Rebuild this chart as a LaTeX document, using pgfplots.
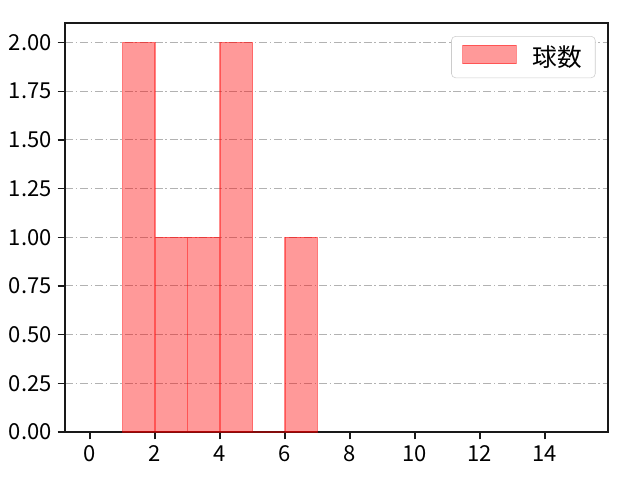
\documentclass[border=0pt]{standalone}
\usepackage{pgfplots}
\pgfplotsset{compat=1.18}
\usepackage{fontspec}
\setmainfont{Noto Sans CJK JP}
\begin{document}
\begin{tikzpicture}[x=0.75pt,y=0.75pt]
\path[use as bounding box] (0,0) rectangle (640,480);
\begin{axis}[
  at={(65*0.75pt,48*0.75pt)}, anchor=south west,
  scale only axis, width=543*0.75pt, height=409*0.75pt,
  xmin=-0.77, xmax=15.94, ymin=0, ymax=2.1,
  xtick={0,2,...,14}, ytick={0,0.25,...,2.0},
  yticklabel style={xshift=-1pt, /pgf/number format/.cd,fixed,fixed zerofill,precision=2},
  /pgf/number format/assume math mode=true,
  tick label style={font=\fontsize{16.5}{18}\selectfont, text=black},
  xticklabel style={yshift=-1pt},
  ymajorgrids, grid style={gray!60, dash pattern=on 6pt off 2pt on 1.2pt off 2pt, line width=0.7pt},
  axis line style={line width=1pt, black!90},
  major tick style={line width=1pt, black!90},
  tick align=outside, major tick length=5.5pt,
  xtick pos=bottom, ytick pos=left,
  legend style={at={(0.977,0.968)}, anchor=north east, draw=black!20, rounded corners=3pt,
    font=\fontsize{18.5}{20}\selectfont, inner xsep=8pt, inner ysep=5pt},
  legend cell align=left,
  legend image code/.code={\draw[#1, sharp corners] (0pt,-5pt) rectangle (40pt,9pt);},
]
\addplot[ybar interval, fill=red, fill opacity=0.4, draw=red, draw opacity=0.45, line width=0.8pt]
  coordinates {(1,2) (2,1) (3,1) (4,2) (5,0) (6,1) (7,1)};
\addlegendentry{\hspace{10pt}球数}
\end{axis}
\end{tikzpicture}
\end{document}
